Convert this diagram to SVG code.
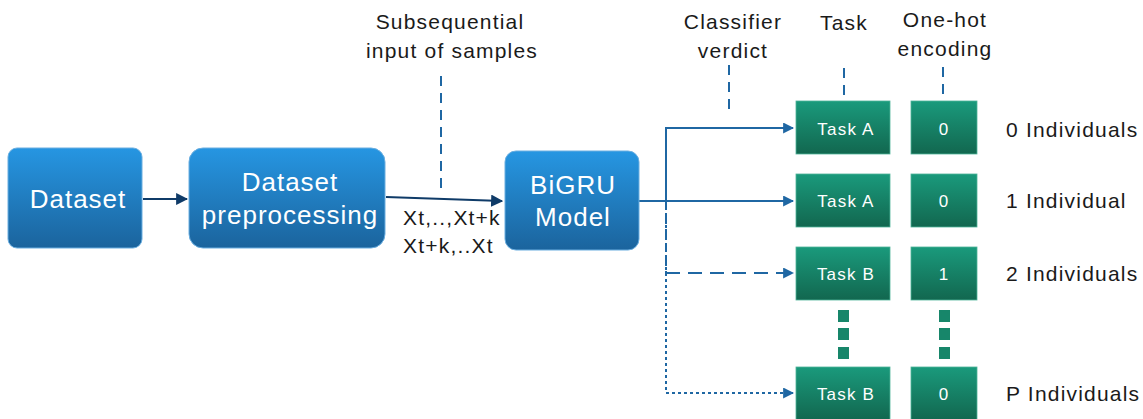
<svg xmlns="http://www.w3.org/2000/svg" width="1143" height="419" viewBox="0 0 1143 419">
<defs>
<linearGradient id="gBlue" x1="0" y1="0" x2="0" y2="1">
<stop offset="0" stop-color="#2696e2"/>
<stop offset="1" stop-color="#1b649d"/>
</linearGradient>
<linearGradient id="gGreen" x1="0" y1="0" x2="0" y2="1">
<stop offset="0" stop-color="#1a9a7c"/>
<stop offset="1" stop-color="#12674f"/>
</linearGradient>
<marker id="aNavy" viewBox="0 0 10 10" refX="9" refY="5" markerWidth="5.5" markerHeight="5.5" orient="auto" markerUnits="strokeWidth">
<path d="M0,0 L10,5 L0,10 z" fill="#0f3b68"/>
</marker>
<marker id="aBlue" viewBox="0 0 10 10" refX="9" refY="5" markerWidth="5.5" markerHeight="5.5" orient="auto" markerUnits="strokeWidth">
<path d="M0,0 L10,5 L0,10 z" fill="#1f67a3"/>
</marker>
</defs>
<style>
.blue{fill:url(#gBlue);stroke:#6aaee0;stroke-width:1}
.green{fill:url(#gGreen);stroke:#4fb39a;stroke-width:0.8}
.wt{fill:#ffffff;font-family:"Liberation Sans",Arial,sans-serif;text-anchor:middle}
.big{font-size:26px;letter-spacing:1px}
.sm{font-size:17px;letter-spacing:1.2px}
.lbl{fill:#1a1a1a;font-family:"Liberation Sans",Arial,sans-serif;font-size:21px;letter-spacing:1.2px}
.mid{text-anchor:middle}
.ln{fill:none;stroke:#1f67a3;stroke-width:2}
.guide{fill:none;stroke:#1f67a3;stroke-width:2;stroke-dasharray:10 7}
</style>

<g id="connectors">
<line x1="143" y1="199" x2="187" y2="199" stroke="#0f3b68" stroke-width="2.2" marker-end="url(#aNavy)"/>
<line x1="386" y1="197" x2="502" y2="201" stroke="#0f3b68" stroke-width="2.2" marker-end="url(#aNavy)"/>
<path class="ln" d="M639,201 L793,201" marker-end="url(#aBlue)"/>
<path class="ln" d="M666,201 L666,128 L793,128" marker-end="url(#aBlue)"/>
<path class="ln" d="M666,201 L666,273" stroke-dasharray="9 5"/>
<path class="ln" d="M666,273 L793,273" stroke-dasharray="14 8" marker-end="url(#aBlue)"/>
<path class="ln" d="M666,201 L666,393 L793,393" stroke-dasharray="3 3" marker-end="url(#aBlue)"/>
<line class="guide" x1="441" y1="76" x2="441" y2="189"/>
<line class="guide" x1="729" y1="65" x2="729" y2="116"/>
<line class="guide" x1="844" y1="68" x2="844" y2="97" stroke-dasharray="4 6"/>
<line class="guide" x1="943" y1="67" x2="943" y2="97" stroke-dasharray="5 5"/>
</g>

<g id="dataset">
<rect class="blue" x="8" y="148" width="134" height="100" rx="9"/>
<text class="wt big" x="78" y="208">Dataset</text>
</g>
<g id="preprocessing">
<rect class="blue" x="189" y="148" width="196" height="100" rx="14"/>
<text class="wt big" x="290" y="191">Dataset</text>
<text class="wt big" x="290" y="224">preprocessing</text>
</g>
<g id="bigru">
<rect class="blue" x="505" y="151" width="134" height="99" rx="11"/>
<text class="wt big" x="573" y="194">BiGRU</text>
<text class="wt big" x="573" y="226">Model</text>
</g>

<g id="input-label">
<text class="lbl mid" x="450" y="29">Subsequential</text>
<text class="lbl mid" x="452" y="58">input of samples</text>
<text class="lbl" x="403" y="225" font-size="18" letter-spacing="0">Xt,..,Xt+k</text>
<text class="lbl" x="403" y="253" font-size="18" letter-spacing="0">Xt+k,..Xt</text>
</g>
<g id="headers">
<text class="lbl mid" x="733" y="29">Classifier</text>
<text class="lbl mid" x="733" y="58">verdict</text>
<text class="lbl mid" x="844" y="30">Task</text>
<text class="lbl mid" x="945" y="27">One-hot</text>
<text class="lbl mid" x="945" y="56">encoding</text>
</g>

<g id="task-row0">
<rect class="green" x="796" y="101" width="94" height="53"/>
<text class="wt sm" x="846" y="135">Task A</text>
<rect class="green" x="911" y="101" width="66" height="53"/>
<text class="wt sm" x="944" y="135">0</text>
<text class="lbl" x="1006" y="137">0 Individuals</text>
</g>
<g id="task-row1">
<rect class="green" x="796" y="174" width="94" height="53"/>
<text class="wt sm" x="846" y="207">Task A</text>
<rect class="green" x="911" y="174" width="66" height="53"/>
<text class="wt sm" x="944" y="207">0</text>
<text class="lbl" x="1006" y="208">1 Individual</text>
</g>
<g id="task-row2">
<rect class="green" x="796" y="247" width="94" height="53"/>
<text class="wt sm" x="846" y="280">Task B</text>
<rect class="green" x="911" y="247" width="66" height="53"/>
<text class="wt sm" x="944" y="280">1</text>
<text class="lbl" x="1006" y="281">2 Individuals</text>
</g>
<g id="ellipsis">
<rect x="838" y="310" width="11" height="12" fill="#17866a"/>
<rect x="838" y="328" width="11" height="12" fill="#17866a"/>
<rect x="838" y="347" width="11" height="12" fill="#17866a"/>
<rect x="939" y="310" width="11" height="12" fill="#17866a"/>
<rect x="939" y="328" width="11" height="12" fill="#17866a"/>
<rect x="939" y="347" width="11" height="12" fill="#17866a"/>
</g>
<g id="task-rowP">
<rect class="green" x="796" y="367" width="94" height="53"/>
<text class="wt sm" x="846" y="400">Task B</text>
<rect class="green" x="911" y="367" width="66" height="53"/>
<text class="wt sm" x="944" y="400">0</text>
<text class="lbl" x="1006" y="401">P Individuals</text>
</g>
</svg>
